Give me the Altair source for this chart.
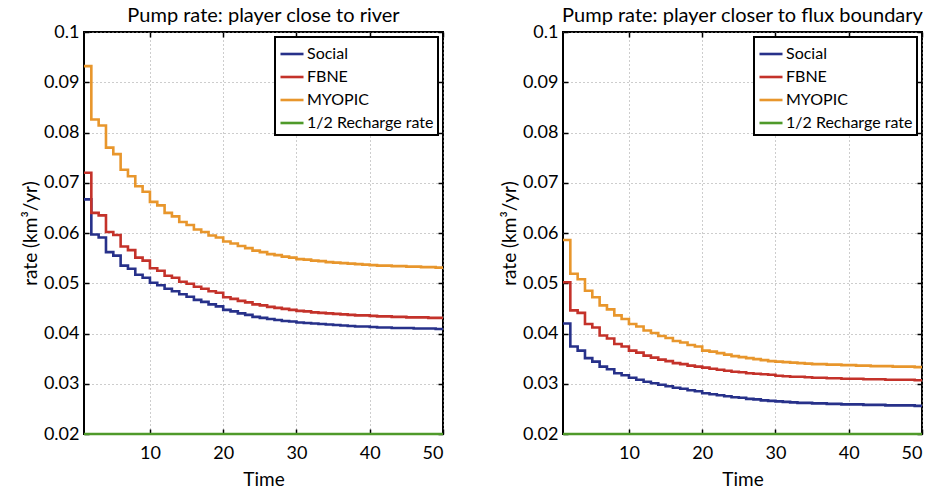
import altair as alt
import pandas as pd

# Time steps (years)
TIME = list(range(1, 51))

SERIES = ["Social", "FBNE", "MYOPIC", "1/2 Recharge rate"]
COLORS = ["#27318a", "#c4322a", "#e8962c", "#4f9a2a"]

HALF_RECHARGE = 0.02

# Player close to river
RIVER_SOCIAL = [
    0.0667, 0.0597, 0.0591, 0.0562, 0.0555, 0.0535, 0.0529, 0.0517, 0.0511, 0.0501,
    0.0496, 0.0489, 0.0484, 0.0478, 0.0473, 0.0467, 0.0463, 0.0458, 0.0454, 0.0447,
    0.0444, 0.0440, 0.0437, 0.0433, 0.0431, 0.0429, 0.0427, 0.0425, 0.0424, 0.0422,
    0.0421, 0.0420, 0.0419, 0.0418, 0.0417, 0.0416, 0.0415, 0.0414, 0.0414, 0.0413,
    0.0412, 0.0412, 0.0411, 0.0411, 0.0411, 0.0410, 0.0410, 0.0410, 0.0409, 0.0409,
]
RIVER_FBNE = [
    0.0720, 0.0640, 0.0635, 0.0602, 0.0596, 0.0573, 0.0566, 0.0551, 0.0545, 0.0530,
    0.0525, 0.0515, 0.0511, 0.0503, 0.0499, 0.0493, 0.0489, 0.0484, 0.0481, 0.0472,
    0.0469, 0.0465, 0.0462, 0.0458, 0.0456, 0.0453, 0.0451, 0.0449, 0.0447, 0.0445,
    0.0444, 0.0442, 0.0441, 0.0440, 0.0439, 0.0438, 0.0437, 0.0436, 0.0436, 0.0435,
    0.0434, 0.0434, 0.0433, 0.0433, 0.0432, 0.0432, 0.0432, 0.0431, 0.0431, 0.0431,
]
RIVER_MYOPIC = [
    0.0932, 0.0826, 0.0814, 0.0770, 0.0757, 0.0726, 0.0713, 0.0693, 0.0682, 0.0662,
    0.0655, 0.0640, 0.0633, 0.0622, 0.0616, 0.0607, 0.0602, 0.0595, 0.0591, 0.0583,
    0.0579, 0.0574, 0.0570, 0.0565, 0.0562, 0.0558, 0.0556, 0.0553, 0.0551, 0.0548,
    0.0547, 0.0545, 0.0544, 0.0542, 0.0541, 0.0540, 0.0539, 0.0538, 0.0537, 0.0536,
    0.0535, 0.0535, 0.0534, 0.0534, 0.0533, 0.0533, 0.0532, 0.0532, 0.0531, 0.0531,
]

# Player closer to flux boundary
FLUX_SOCIAL = [
    0.0420, 0.0374, 0.0366, 0.0351, 0.0344, 0.0334, 0.0329, 0.0321, 0.0317, 0.0312,
    0.0308, 0.0304, 0.0301, 0.0298, 0.0295, 0.0292, 0.0290, 0.0287, 0.0285, 0.0281,
    0.0279, 0.0277, 0.0275, 0.0273, 0.0272, 0.0270, 0.0269, 0.0267, 0.0266, 0.0265,
    0.0264, 0.0263, 0.0262, 0.0262, 0.0261, 0.0261, 0.0260, 0.0260, 0.0259, 0.0259,
    0.0259, 0.0258, 0.0258, 0.0258, 0.0257, 0.0257, 0.0257, 0.0257, 0.0256, 0.0256,
]
FLUX_FBNE = [
    0.0502, 0.0446, 0.0441, 0.0419, 0.0412, 0.0396, 0.0390, 0.0379, 0.0374, 0.0366,
    0.0362, 0.0356, 0.0352, 0.0348, 0.0345, 0.0341, 0.0339, 0.0336, 0.0334, 0.0332,
    0.0330, 0.0328, 0.0326, 0.0324, 0.0323, 0.0321, 0.0320, 0.0319, 0.0318, 0.0316,
    0.0315, 0.0314, 0.0314, 0.0313, 0.0312, 0.0312, 0.0311, 0.0311, 0.0310, 0.0310,
    0.0310, 0.0309, 0.0309, 0.0309, 0.0308, 0.0308, 0.0308, 0.0308, 0.0307, 0.0307,
]
FLUX_MYOPIC = [
    0.0586, 0.0519, 0.0508, 0.0485, 0.0472, 0.0456, 0.0448, 0.0436, 0.0429, 0.0419,
    0.0414, 0.0406, 0.0401, 0.0395, 0.0391, 0.0385, 0.0382, 0.0377, 0.0374, 0.0366,
    0.0364, 0.0361, 0.0358, 0.0355, 0.0353, 0.0351, 0.0349, 0.0347, 0.0345, 0.0344,
    0.0343, 0.0342, 0.0341, 0.0340, 0.0339, 0.0339, 0.0338, 0.0338, 0.0337, 0.0337,
    0.0336, 0.0336, 0.0335, 0.0335, 0.0335, 0.0334, 0.0334, 0.0334, 0.0333, 0.0333,
]

X_TICKS = [10, 20, 30, 40, 50]
Y_TICKS = [0.02, 0.03, 0.04, 0.05, 0.06, 0.07, 0.08, 0.09, 0.1]

FONT = "Lato"
W, H = 359, 402


def build_frame(social, fbne, myopic):
    rows = []
    for name, vals in zip(SERIES, [social, fbne, myopic, [HALF_RECHARGE] * len(TIME)]):
        for t, v in zip(TIME, vals):
            rows.append({"t": t, "rate": v, "series": name})
    return pd.DataFrame(rows)


def panel(df, title):
    xs = alt.Scale(domain=[1, 50], nice=False, zero=False)
    ys = alt.Scale(domain=[0.02, 0.1], nice=False, zero=False)
    grid = dict(grid=True, gridColor="#9a9a9a", gridDash=[1, 3], gridWidth=1)

    lines = alt.Chart(df).mark_line(interpolate="step-after", strokeWidth=2.6).encode(
        x=alt.X("t:Q", scale=xs, axis=alt.Axis(
            values=X_TICKS, title="Time", ticks=False, domain=False,
            labelPadding=10, titlePadding=8, **grid)),
        y=alt.Y("rate:Q", scale=ys, axis=alt.Axis(
            values=Y_TICKS, format=".2~f", title="rate (km³/yr)", ticks=False,
            domain=False, labelPadding=5, titlePadding=3, **grid)),
        color=alt.Color("series:N", sort=SERIES,
                        scale=alt.Scale(domain=SERIES, range=COLORS),
                        legend=alt.Legend(
                            title=None, orient="top-right", offset=5,
                            fillColor="white", strokeColor="black",
                            padding=4, rowPadding=2, symbolType="stroke",
                            symbolSize=530, symbolStrokeWidth=2.6,
                            labelFont=FONT, labelFontSize=16, labelColor="black",
                            labelOffset=2)),
    )

    tick_axis = dict(labels=False, title=None, domain=False, grid=False,
                     ticks=True, tickSize=5, tickColor="black", tickWidth=1.5,
                     offset=-5)
    inner_a = alt.Chart(df).mark_line(strokeOpacity=0).encode(
        x=alt.X("t:Q", scale=xs, axis=alt.Axis(values=X_TICKS, orient="bottom", **tick_axis)),
        y=alt.Y("rate:Q", scale=ys, axis=alt.Axis(values=Y_TICKS, orient="left", **tick_axis)),
    )
    inner_b = alt.Chart(df).mark_line(strokeOpacity=0).encode(
        x=alt.X("t:Q", scale=xs, axis=alt.Axis(values=X_TICKS, orient="top", **tick_axis)),
        y=alt.Y("rate:Q", scale=ys, axis=alt.Axis(values=Y_TICKS, orient="right", **tick_axis)),
    )

    return alt.layer(lines, inner_a, inner_b).resolve_axis(
        x="independent", y="independent"
    ).properties(
        width=W, height=H,
        title=alt.TitleParams(title, fontSize=20, font=FONT, fontWeight="normal",
                              color="black", offset=-3),
    )


left = panel(build_frame(RIVER_SOCIAL, RIVER_FBNE, RIVER_MYOPIC),
             "Pump rate: player close to river")
right = panel(build_frame(FLUX_SOCIAL, FLUX_FBNE, FLUX_MYOPIC),
              "Pump rate: player closer to flux boundary")

chart = alt.hconcat(left, right, spacing=49).resolve_scale(
    color="independent"
).resolve_legend(
    color="independent"
).properties(
    padding={"left": 20, "top": 5, "right": 5, "bottom": 5},
    background="white",
).configure_view(
    stroke="black", strokeWidth=2,
).configure_legend(
    strokeWidth=2,
).configure_axis(
    labelFont=FONT, labelFontSize=18, labelColor="black",
    titleFont=FONT, titleFontSize=19, titleFontWeight="normal", titleColor="black",
)

chart.save("out.html", embed_options={"renderer": "svg", "actions": False})
